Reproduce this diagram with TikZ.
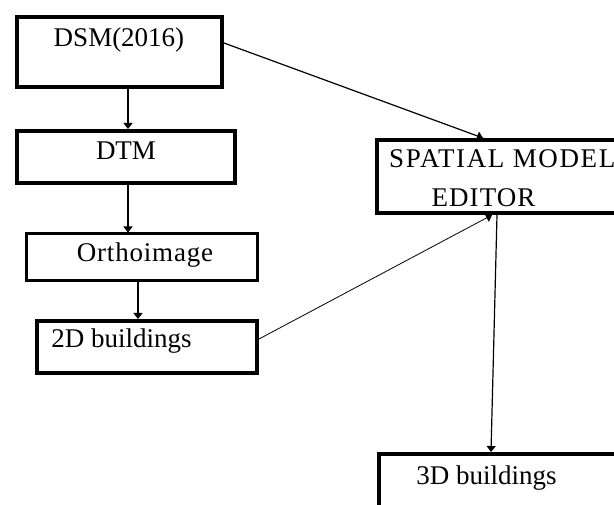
\documentclass[tikz,border=0pt]{standalone}
\usepackage{fontspec}
\setmainfont{Liberation Serif}
\usetikzlibrary{arrows.meta}
\tikzset{
  boxnode/.style={draw=black, line width=4pt, rectangle, inner sep=0pt, outer sep=2pt, fill=white},
  thinbox/.style={boxnode, line width=3pt, outer sep=1.5pt},
  lbl/.style={font=\fontsize{27}{30}\selectfont, inner sep=0pt, anchor=base},
  arr/.style={line width=1.2pt, -{Triangle[width=9pt,length=6pt]}},
  thinarr/.style={line width=0.8pt, -{Triangle[width=9pt,length=6pt]}}
}
\begin{document}
\begin{tikzpicture}[x=1pt,y=-1pt]
\useasboundingbox (0,0) rectangle (614,505);
% boxes (path centres)
\node[boxnode, minimum width=205pt, minimum height=70pt, anchor=north west] (dsm) at (15,15) {};
\node[boxnode, minimum width=218pt, minimum height=52pt, anchor=north west] (dtm) at (15,129) {};
\node[thinbox, minimum width=231pt, minimum height=47pt, anchor=north west] (ortho) at (24.5,232.5) {};
\node[boxnode, minimum width=220pt, minimum height=52pt, anchor=north west] (twod) at (35,319) {};
\node[boxnode, minimum width=265pt, minimum height=73pt, anchor=north west] (sme) at (375,138) {};
\node[boxnode, minimum width=265pt, minimum height=90pt, anchor=north west] (threed) at (377,452) {};
% labels
\node[lbl] (dsmt) at (119,47) {DSM(2016)};
\node[lbl] (dtmt) at (126,160) {DTM};
\node[lbl] (orthot) at (145,262) {\addfontfeature{LetterSpace=3}Orthoimage};
\node[lbl] (twodt) at (121.5,348) {2D buildings};
\node[lbl, anchor=base west] (smet1) at (389,168) {\addfontfeature{LetterSpace=6}SPATIAL MODEL};
\node[lbl] (smet2) at (483.5,207) {\addfontfeature{LetterSpace=4}EDITOR};
\node[lbl] (threedt) at (486.5,485) {3D buildings};
% connectors
\draw[arr] (dsm.south -| 128,0) -- (dtm.north -| 128,0);
\draw[arr] (dtm.south -| 128,0) -- (ortho.north -| 128,0);
\draw[arr] (ortho.south -| 138,0) -- (twod.north -| 138,0);
\draw[arr] (dsm.east |- 0,43) -- (sme.north -| 483,0);
\draw[thinarr] (twod.east |- 0,339) -- (sme.south -| 492,0);
\draw[arr] (sme.south -| 497,0) -- (threed.north -| 491,0);
\end{tikzpicture}
\end{document}
